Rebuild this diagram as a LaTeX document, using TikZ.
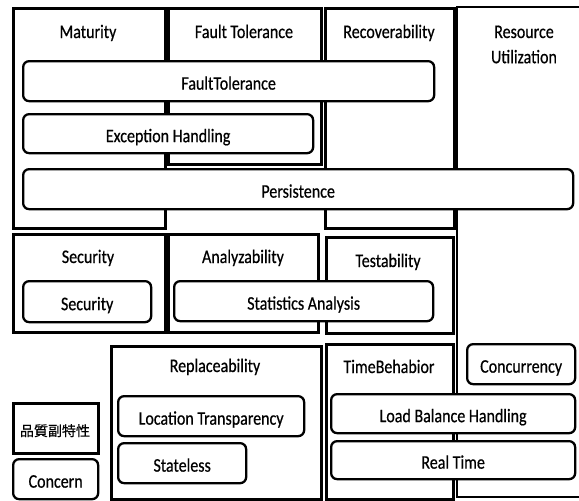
\documentclass[tikz,border=0pt]{standalone}
\usepackage{fontspec}
\usepackage{graphicx}
\setmainfont{Carlito}[FakeBold=0.6]
\newfontfamily\cjk{Noto Sans CJK JP}[FakeBold=0.6]
\newcommand{\vs}[1]{\scalebox{1}[1.2]{#1}}
\tikzset{
  boxline/.style={draw=black, line width=2.8pt},
  catbox/.style={boxline, rectangle, anchor=north west, inner sep=0pt},
  rbox/.style={draw=black, line width=2.3pt, fill=white, rounded corners=6pt, rectangle, anchor=north west, inner sep=0pt, text height=17pt, text depth=0pt, font=\fontsize{16}{19}\selectfont},
  lbl/.style={anchor=base, inner sep=0pt, font=\fontsize{16}{19}\selectfont},
}
\begin{document}
\begin{tikzpicture}[x=1pt,y=-1pt]
\useasboundingbox[fill=white] (0,0) rectangle (579,501);
% category boxes
\node[catbox, minimum width=152pt, minimum height=220pt] (mat) at (12,7) {};
\node[catbox, minimum width=153pt, minimum height=156pt] (ft) at (167,7) {};
\node[catbox, minimum width=129pt, minimum height=220pt] (rec) at (324,7) {};
\draw[boxline] (579,7) -- (457,7) -- (457,497) -- (579,497);
\node[catbox, minimum width=152pt, minimum height=98pt] (sec) at (12,233) {};
\node[catbox, minimum width=150pt, minimum height=98pt] (ana) at (167,233) {};
\node[catbox, minimum width=127pt, minimum height=96pt] (tes) at (325,236) {};
\node[catbox, minimum width=210pt, minimum height=153pt] (rep) at (110,345) {};
\node[catbox, minimum width=127pt, minimum height=155pt] (tim) at (325,343) {};
\node[catbox, minimum width=85pt, minimum height=50pt] (jp) at (12,402) {};
% titles
\node[lbl] (matT) at (88,38) {\vs{Maturity}};
\node[lbl] (ftT) at (244,38) {\vs{Fault Tolerance}};
\node[lbl] (recT) at (389,38) {\vs{Recoverability}};
\node[lbl] (resT) at (524,38) {\vs{\begin{tabular}[t]{@{}c@{}}Resource\\[2pt]Utilization\end{tabular}}};
\node[lbl] (secT) at (88,263) {\vs{Security}};
\node[lbl] (anaT) at (243,263) {\vs{Analyzability}};
\node[lbl] (tesT) at (388,267) {\vs{Testability}};
\node[lbl] (repT) at (215,372) {\vs{Replaceability}};
\node[lbl] (timT) at (389,373) {\vs{TimeBehabior}};
\node[lbl] (jpT) at (55,436) {\cjk\fontsize{14}{16}\selectfont 品質副特性};
% concern boxes
\node[rbox, minimum width=411pt, minimum height=40pt] (ftR) at (22,60) {\vs{FaultTolerance}};
\node[rbox, minimum width=290pt, minimum height=39pt] (exc) at (22,113) {\vs{Exception Handling}};
\node[rbox, minimum width=550pt, minimum height=40pt] (per) at (22,168) {\vs{Persistence}};
\node[rbox, minimum width=128pt, minimum height=41pt] (secR) at (22,280) {\vs{Security}};
\node[rbox, minimum width=259pt, minimum height=40pt] (sta) at (173,280) {\vs{Statistics Analysis}};
\node[rbox, minimum width=186pt, minimum height=40pt] (loc) at (117,395) {\vs{Location Transparency}};
\node[rbox, minimum width=128pt, minimum height=40pt] (stl) at (117,442) {\vs{Stateless}};
\node[rbox, minimum width=85pt, minimum height=40pt] (con) at (12,458) {\vs{Concern}};
\node[rbox, minimum width=108pt, minimum height=40pt] (cur) at (466,343) {\vs{Concurrency}};
\node[rbox, minimum width=244pt, minimum height=39pt] (lbh) at (330,393) {\vs{Load Balance Handling}};
\node[rbox, minimum width=244pt, minimum height=38pt] (rt) at (330,440) {\vs{Real Time}};
\end{tikzpicture}
\end{document}
